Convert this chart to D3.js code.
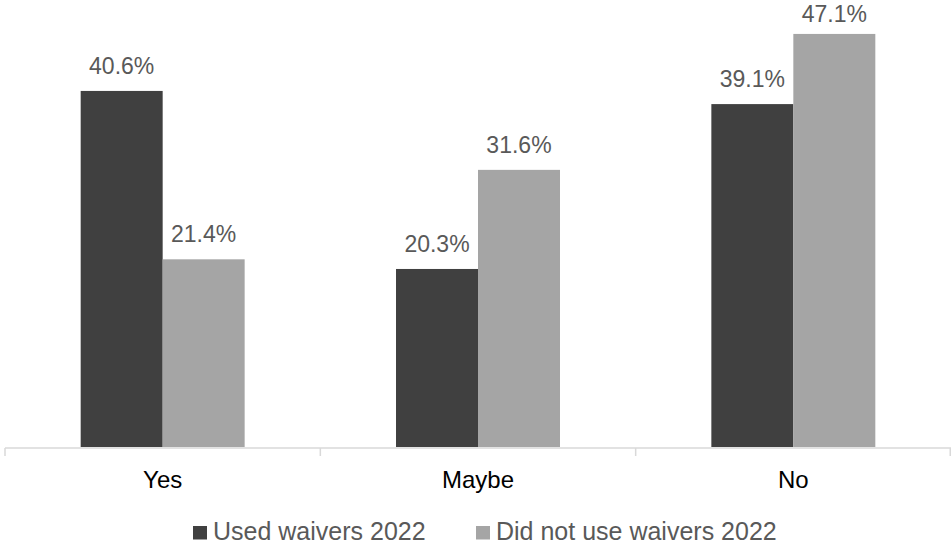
<!DOCTYPE html>
<html>
<head>
<meta charset="utf-8">
<script src="https://cdn.jsdelivr.net/npm/d3@7"></script>
<style>
  html, body { margin: 0; padding: 0; background: #fff; }
  svg { display: block; font-family: "Liberation Sans", Arial, sans-serif; }
</style>
</head>
<body>
<svg id="chart" width="951" height="544"></svg>
<script>
// Survey answers by waiver usage
const categories = ["Yes", "Maybe", "No"];
const seriesNames = ["Used waivers 2022", "Did not use waivers 2022"];
const usedWaivers = [40.6, 20.3, 39.1];
const didNotUse = [21.4, 31.6, 47.1];
const seriesColors = ["#404040", "#a5a5a5"];

const values = [usedWaivers, didNotUse];
const data = categories.map((c, i) => ({
  category: c,
  items: seriesNames.map((s, j) => ({ series: s, idx: j, value: values[j][i] }))
}));

const svg = d3.select("#chart");
const left = 5, right = 951, baseline = 447;

const x = d3.scaleBand().domain(categories).range([left, right])
  .paddingInner(0.48).paddingOuter(0.24);
const x1 = d3.scaleBand().domain(d3.range(seriesNames.length)).range([0, x.bandwidth()]);
const y = d3.scaleLinear().domain([0, 50]).range([baseline, baseline - 438.5]);

// Bars
const groups = svg.append("g").selectAll("g").data(data).join("g")
  .attr("transform", d => `translate(${x(d.category)},0)`);

groups.selectAll("rect").data(d => d.items).join("rect")
  .attr("x", d => x1(d.idx))
  .attr("width", x1.bandwidth())
  .attr("y", d => y(d.value))
  .attr("height", d => y(0) - y(d.value))
  .attr("fill", d => seriesColors[d.idx]);

// Value labels, kept inside the plot area at the top
groups.selectAll("text").data(d => d.items).join("text")
  .attr("x", d => x1(d.idx) + x1.bandwidth() / 2)
  .attr("y", d => Math.max(y(d.value) - 17, 22))
  .attr("text-anchor", "middle")
  .attr("fill", "#595959")
  .attr("font-size", 23)
  .text(d => d.value.toFixed(1) + "%");

// Category axis with boundary ticks
const axisG = svg.append("g").attr("transform", `translate(0,${baseline + 1})`);
axisG.append("line")
  .attr("x1", left).attr("x2", right)
  .attr("stroke", "#d9d9d9").attr("stroke-width", 1.5);
const step = x.step();
const boundaries = d3.range(categories.length + 1).map(i => left + i * step);
axisG.selectAll("line.tick").data(boundaries).join("line")
  .attr("class", "tick")
  .attr("x1", d => Math.min(d, right - 0.75)).attr("x2", d => Math.min(d, right - 0.75))
  .attr("y1", 0).attr("y2", 8)
  .attr("stroke", "#d9d9d9").attr("stroke-width", 1.5);

svg.append("g").selectAll("text").data(categories).join("text")
  .attr("x", d => x(d) + x.bandwidth() / 2)
  .attr("y", 488)
  .attr("text-anchor", "middle")
  .attr("fill", "#000")
  .attr("font-size", 24)
  .text(d => d);

// Legend
const legendItems = [
  { name: seriesNames[0], color: seriesColors[0], x: 193 },
  { name: seriesNames[1], color: seriesColors[1], x: 476 }
];
const legend = svg.append("g");
legend.selectAll("rect").data(legendItems).join("rect")
  .attr("x", d => d.x).attr("y", 526)
  .attr("width", 14).attr("height", 13.5)
  .attr("fill", d => d.color);
legend.selectAll("text").data(legendItems).join("text")
  .attr("x", d => d.x + 20).attr("y", 539.5)
  .attr("fill", "#595959")
  .attr("font-size", 25)
  .text(d => d.name);
</script>
</body>
</html>
